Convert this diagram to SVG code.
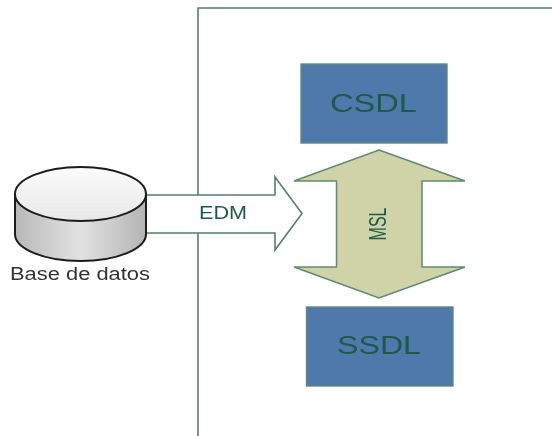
<svg xmlns="http://www.w3.org/2000/svg" width="552" height="436" viewBox="0 0 552 436">
<style>
text{font-family:"Liberation Sans",Arial,sans-serif;text-anchor:middle}
.ln{fill:none;stroke:#55806a;stroke-width:1.6}
.box{fill:#4f79ab;stroke:#5f8a78;stroke-width:1.4}
.dark{fill:#1f5a4a}
.cyl{stroke:#1c1c1c;stroke-width:2}
</style>
<defs>
<linearGradient id="side" x1="0" y1="0" x2="1" y2="0">
<stop offset="0" stop-color="#b8b8b8"/><stop offset="0.5" stop-color="#e2e2e2"/><stop offset="1" stop-color="#b4b4b4"/>
</linearGradient>
<linearGradient id="top" x1="0" y1="0" x2="0" y2="1">
<stop offset="0" stop-color="#fbfbfb"/><stop offset="1" stop-color="#e8e8e8"/>
</linearGradient>
<filter id="soft" x="-5%" y="-5%" width="110%" height="110%"><feGaussianBlur stdDeviation="0.6"/></filter>
</defs>
<rect width="552" height="436" fill="#fff"/>
<g filter="url(#soft)">
<g id="frame"><path class="ln" d="M552 8H198V195M198 233V436"/></g>
<g id="connectors">
<g id="edm-arrow">
<path class="ln" d="M146 195H275V177L302 213.500L275 250V233H146"/>
<text x="223" y="219" font-size="18" class="dark" textLength="48" lengthAdjust="spacingAndGlyphs">EDM</text>
</g>
<g id="msl-arrow">
<path d="M379 150L465 181H422V267H465L379 298L294 267H336.500V181H294Z" fill="#d0d3a8" stroke="#5f8a70" stroke-width="1.5" stroke-linejoin="miter"/>
<text transform="translate(386 224) scale(1.5 1) rotate(-90)" font-size="16" class="dark">MSL</text>
</g>
</g>
<g id="database">
<path class="cyl" d="M15 194V234C15 249 44 261 80.500 261S146 249 146 234V194Z" fill="url(#side)"/>
<ellipse class="cyl" cx="80.500" cy="194" rx="65.500" ry="27" fill="url(#top)"/>
<text x="80" y="280" font-size="17.500" fill="#333" textLength="140" lengthAdjust="spacingAndGlyphs">Base de datos</text>
</g>
<g id="csdl">
<rect class="box" x="301" y="64" width="146" height="79"/>
<text x="373.500" y="112" font-size="26.500" class="dark" textLength="87" lengthAdjust="spacingAndGlyphs">CSDL</text>
</g>
<g id="ssdl">
<rect class="box" x="306.500" y="307" width="146.500" height="79"/>
<text x="379" y="354" font-size="26.500" class="dark" textLength="84" lengthAdjust="spacingAndGlyphs">SSDL</text>
</g>
</g>
</svg>
